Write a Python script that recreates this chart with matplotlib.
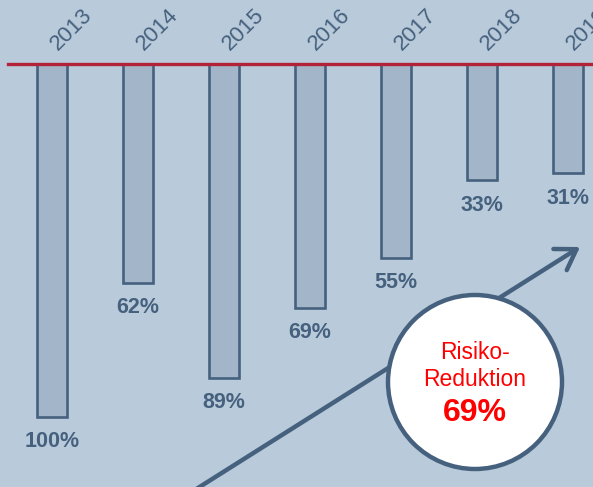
import matplotlib
matplotlib.use("Agg")
import matplotlib.pyplot as plt
from matplotlib.patches import Circle

plt.rcParams['font.family'] = ['Liberation Sans', 'DejaVu Sans']

# Daten
jahre = ['2013', '2014', '2015', '2016', '2017', '2018', '2019']
risiko = [100, 62, 89, 69, 55, 33, 31]
reduktion_text = 'Risiko-\nReduktion'
reduktion_wert = '69%'

BG = '#b9cbdb'
BAR = '#a3b5c8'
EDGE = '#46617e'
RED = '#b22238'

fig = plt.figure(figsize=(5.93, 4.87), dpi=100)
fig.patch.set_facecolor(BG)

# Balken-Achse (Datenkoordinaten)
ax = fig.add_axes([0, 0, 1, 1])
ax.set_facecolor(BG)
x = list(range(len(jahre)))
ax.bar(x, risiko, width=0.35, color=BAR, edgecolor=EDGE, linewidth=1.9, zorder=2)
ax.set_xlim(-0.605, 6.291)
ax.set_ylim(119.8, -18.1)
ax.axis('off')

ax.axhline(0, xmin=0.013, xmax=1, color=RED, linewidth=2.4, zorder=3)

for xi, jahr, val in zip(x, jahre, risiko):
    ax.text(xi + 0.07, -3.6, jahr, rotation=45, rotation_mode='anchor',
            ha='left', va='baseline', fontsize=16, color=EDGE)
    ax.text(xi, val + 7, f'{val}%', ha='center', va='center',
            fontsize=15.5, fontweight='bold', color=EDGE)

# Overlay in Pixelkoordinaten
ov = fig.add_axes([0, 0, 1, 1])
ov.set_xlim(0, 593)
ov.set_ylim(487, 0)
ov.axis('off')
ov.patch.set_alpha(0)

ov.annotate('', xy=(580, 247), xytext=(190, 493),
            arrowprops=dict(arrowstyle='->,head_length=1.4,head_width=0.9',
                            color=EDGE, lw=3.2, shrinkA=0, shrinkB=0))
ov.add_patch(Circle((475, 382), 87, facecolor='white', edgecolor=EDGE,
                    linewidth=3.2, zorder=5))
ov.text(475, 366, reduktion_text, ha='center', va='center', fontsize=16.5,
        color='#ff0000', linespacing=1.2, zorder=6)
ov.text(475, 413, reduktion_wert, ha='center', va='center', fontsize=23,
        fontweight='bold', color='#ff0000', zorder=6)

fig.savefig('out.png', dpi=100, facecolor=BG)
